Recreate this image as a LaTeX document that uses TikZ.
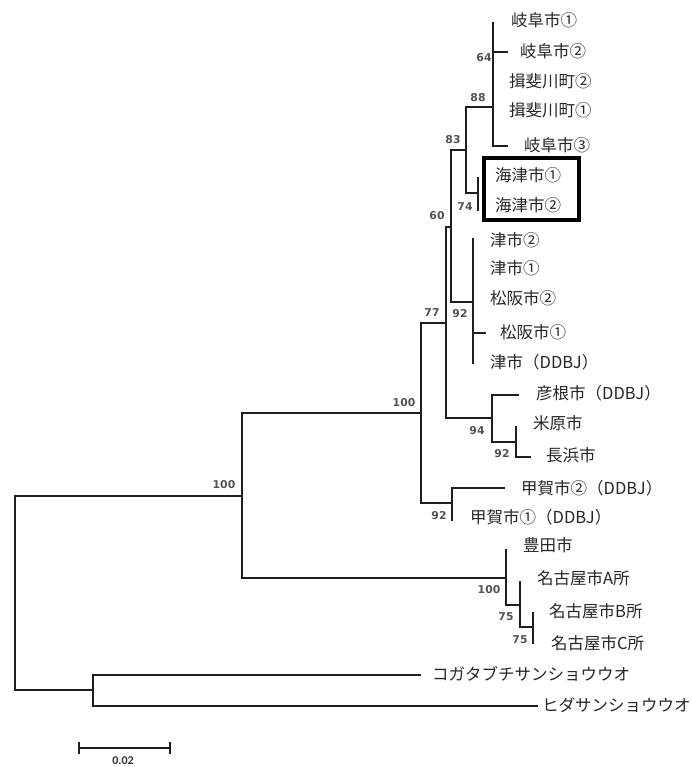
\documentclass[tikz,border=0pt]{standalone}
\usepackage{fontspec}
\newfontfamily\jpfont{Noto Sans CJK JP}
\newfontfamily\bsfont{DejaVu Sans}
\newfontfamily\scfont{Carlito}
\begin{document}
\begin{tikzpicture}[x=1pt,y=-1pt,
  br/.style={draw=black!88, line width=1.9pt, line cap=rect},
  tip/.style={anchor=west, inner sep=0pt, text=black!85, font=\jpfont\fontsize{16.5}{18}\selectfont},
  bs/.style={inner sep=0pt, text=black!68, font=\bsfont\bfseries\fontsize{10.8}{11}\selectfont},
  boxst/.style={draw=black, line width=3.8pt}]
\useasboundingbox (0,0) rectangle (692,767);
% internal nodes and tip ends
\coordinate (root) at (15,593);
\coordinate (ing) at (242,495.7);
\coordinate (out) at (93,690);
\coordinate (ko) at (420,675);
\coordinate (hi) at (537,706);
\coordinate (a) at (421,413);
\coordinate (nag) at (506,578);
\coordinate (b) at (446,323);
\coordinate (koka) at (452,503);
\coordinate (c) at (451,227);
\coordinate (hik) at (492,418);
\coordinate (d) at (466,150);
\coordinate (tsu) at (473,302);
\coordinate (gifu) at (493,107);
\coordinate (kai) at (478,193);
\coordinate (g1) at (493,23);
\coordinate (g2) at (507,52);
\coordinate (g3) at (493,81);
\coordinate (g4) at (493,110);
\coordinate (g5) at (507,146);
\coordinate (k1) at (478,178);
\coordinate (k2) at (478,210);
\coordinate (t1) at (473,239);
\coordinate (t2) at (473,268);
\coordinate (t3) at (473,298);
\coordinate (t4) at (485,333);
\coordinate (t5) at (473,363);
\coordinate (h1) at (518,395);
\coordinate (nh) at (516,442);
\coordinate (h2) at (516,427);
\coordinate (h3) at (530,457);
\coordinate (ko2) at (504,488);
\coordinate (ko1) at (452,520);
\coordinate (n0) at (506,550);
\coordinate (nb) at (520,605);
\coordinate (na) at (520,582);
\coordinate (nc) at (533,627);
\coordinate (nB) at (533,613);
\coordinate (nC) at (533,643);
% branches
\draw[br] (root) |- (ing);
\draw[br] (root) |- (out);
\draw[br] (out) |- (ko);
\draw[br] (out) |- (hi);
\draw[br] (ing) |- (a);
\draw[br] (ing) |- (nag);
\draw[br] (a) |- (b);
\draw[br] (a) |- (koka);
\draw[br] (b) |- (c);
\draw[br] (b) |- (hik);
\draw[br] (c) |- (d);
\draw[br] (c) |- (tsu);
\draw[br] (d) |- (gifu);
\draw[br] (d) |- (kai);
\draw[br] (gifu) |- (g1);
\draw[br] (gifu) |- (g2);
\draw[br] (gifu) |- (g3);
\draw[br] (gifu) |- (g4);
\draw[br] (gifu) |- (g5);
\draw[br] (kai) |- (k1);
\draw[br] (kai) |- (k2);
\draw[br] (tsu) |- (t1);
\draw[br] (tsu) |- (t2);
\draw[br] (tsu) |- (t3);
\draw[br] (tsu) |- (t4);
\draw[br] (tsu) |- (t5);
\draw[br] (hik) |- (h1);
\draw[br] (hik) |- (nh);
\draw[br] (nh) |- (h2);
\draw[br] (nh) |- (h3);
\draw[br] (koka) |- (ko2);
\draw[br] (koka) |- (ko1);
\draw[br] (nag) |- (n0);
\draw[br] (nag) |- (nb);
\draw[br] (nb) |- (na);
\draw[br] (nb) |- (nc);
\draw[br] (nc) |- (nB);
\draw[br] (nc) |- (nC);
% tip labels
\node[tip] (L1) at (511,20) {岐阜市①};
\node[tip] (L2) at (520,51) {岐阜市②};
\node[tip] (L3) at (509,81) {揖斐川町②};
\node[tip] (L4) at (509,110) {揖斐川町①};
\node[tip] (L5) at (524,145) {岐阜市③};
\node[tip] (L6) at (495,175) {海津市①};
\node[tip] (L7) at (495,205) {海津市②};
\node[tip] (L8) at (490,240) {津市②};
\node[tip] (L9) at (490,268) {津市①};
\node[tip] (L10) at (490,298) {松阪市②};
\node[tip] (L11) at (500,332) {松阪市①};
\node[tip] (L12) at (490,362) {津市（DDBJ）};
\node[tip] (L13) at (536,393) {彦根市（DDBJ）};
\node[tip] (L14) at (533,423) {米原市};
\node[tip] (L15) at (546,455) {長浜市};
\node[tip] (L16) at (521,488) {甲賀市②（DDBJ）};
\node[tip] (L17) at (470,517) {甲賀市①（DDBJ）};
\node[tip] (L18) at (523,545) {豊田市};
\node[tip] (L19) at (537,578) {名古屋市A所};
\node[tip] (L20) at (549,611) {名古屋市B所};
\node[tip] (L21) at (551,643) {名古屋市C所};
\node[tip] (L22) at (432,674) {コガタブチサンショウウオ};
\node[tip] (L23) at (542,705) {ヒダサンショウウオ};
% highlight box
\draw[boxst] (484,158) rectangle (579,220);
% bootstrap values
\node[bs] (b64) at (484,58) {64};
\node[bs] (b88) at (478,98) {88};
\node[bs] (b83) at (453,140) {83};
\node[bs] (b74) at (465,207) {74};
\node[bs] (b60) at (437,216) {60};
\node[bs] (b77) at (432,313) {77};
\node[bs] (b92a) at (460,314) {92};
\node[bs] (b100a) at (404,403) {100};
\node[bs] (b94) at (477,431) {94};
\node[bs] (b92b) at (502,454) {92};
\node[bs] (b92c) at (439,516) {92};
\node[bs] (b100b) at (224,485) {100};
\node[bs] (b100c) at (489,590) {100};
\node[bs] (b75a) at (506,617) {75};
\node[bs] (b75b) at (520,640) {75};
% scale bar
\coordinate (s1) at (79,748);
\coordinate (s2) at (170,748);
\draw[br, line width=1.6pt, line cap=butt] (s1) -- (s2);
\draw[br, line width=1.6pt, line cap=butt] ([yshift=-6pt]s1) -- ([yshift=6pt]s1);
\draw[br, line width=1.6pt, line cap=butt] ([yshift=-6pt]s2) -- ([yshift=6pt]s2);
\node[inner sep=0pt, text=black!80, font=\scfont\bfseries\fontsize{12}{13}\selectfont] (sl) at (123,761) {0.02};
\end{tikzpicture}
\end{document}
